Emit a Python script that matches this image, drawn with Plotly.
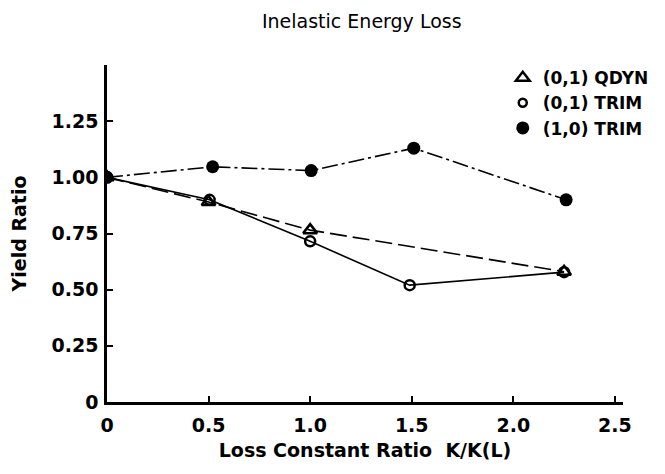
import plotly.graph_objects as go

# (0,1) QDYN
x_qdyn = [0, 0.50, 1.0, 2.25]
y_qdyn = [1.0, 0.89, 0.765, 0.58]
# (0,1) TRIM
x_trim01 = [0, 0.505, 1.0, 1.49, 2.25]
y_trim01 = [1.0, 0.90, 0.715, 0.52, 0.578]
# (1,0) TRIM
x_trim10 = [0, 0.52, 1.005, 1.51, 2.26]
y_trim10 = [1.0, 1.047, 1.03, 1.13, 0.90]

y_ticks = [0, 0.25, 0.5, 0.75, 1.0, 1.25, 1.5]
y_tick_labels = ["0", "0.25", "0.50", "0.75", "1.00", "1.25", ""]
x_ticks = [0, 0.5, 1.0, 1.5, 2.0, 2.5]
x_tick_labels = ["0", "0.5", "1.0", "1.5", "2.0", "2.5"]

FONT = "DejaVu Sans"

tri = dict(symbol="triangle-up-open", size=12, color="black", line=dict(width=2.5, color="black"))
ring = dict(symbol="circle-open", size=10, color="black", line=dict(width=2.5, color="black"))
dot = dict(symbol="circle", size=13, color="black")

fig = go.Figure()
fig.add_trace(go.Scatter(x=x_qdyn, y=y_qdyn, mode="lines+markers", showlegend=False,
                         line=dict(color="black", width=1.6, dash="17px,6px"), marker=tri))
fig.add_trace(go.Scatter(x=x_trim01, y=y_trim01, mode="lines+markers", showlegend=False,
                         line=dict(color="black", width=1.6), marker=ring))
fig.add_trace(go.Scatter(x=x_trim10, y=y_trim10, mode="lines+markers", showlegend=False,
                         line=dict(color="black", width=1.6, dash="16px,4px,3px,4px"), marker=dot))
# legend entries (symbols only, as in the original key)
fig.add_trace(go.Scatter(x=[None], y=[None], mode="markers", name="<b>(0,1) QDYN</b>", marker=tri))
fig.add_trace(go.Scatter(x=[None], y=[None], mode="markers", name="<b>(0,1) TRIM</b>",
                         marker=dict(ring, size=8)))
fig.add_trace(go.Scatter(x=[None], y=[None], mode="markers", name="<b>(1,0) TRIM</b>", marker=dot))

fig.update_layout(
    width=665, height=474,
    margin=dict(l=99, r=50, t=57, b=80, autoexpand=False),
    paper_bgcolor="white", plot_bgcolor="white",
    font=dict(family=FONT, size=19, color="black"),
    title=dict(text="Inelastic Energy Loss", xref="container", x=0.532, xanchor="center",
               yref="container", y=0.972, yanchor="middle",
               font=dict(family=FONT, size=19, color="black")),
    legend=dict(xref="container", yref="container", x=0.744, y=0.89, xanchor="left", yanchor="top",
                bgcolor="rgba(0,0,0,0)", font=dict(family=FONT, size=17, color="black"),
                tracegroupgap=0, itemwidth=30),
    showlegend=True,
)
fig.update_xaxes(range=[0, 2.54], tickvals=x_ticks, ticktext=[f"<b>{t}</b>" for t in x_tick_labels],
                 showgrid=False, zeroline=False, showline=True, linecolor="black", linewidth=2.5,
                 ticks="inside", ticklen=6, tickwidth=2, tickcolor="black", tickangle=0,
                 ticklabelstandoff=4, tickfont=dict(size=19),
                 title=dict(text="<b>Loss Constant Ratio  K/K(L)</b>", standoff=10, font=dict(size=19)))
fig.update_yaxes(range=[0, 1.5], tickvals=y_ticks, ticktext=[f"<b>{t}</b>" for t in y_tick_labels],
                 showgrid=False, zeroline=False, showline=True, linecolor="black", linewidth=2.5,
                 ticks="inside", ticklen=6, tickwidth=2, tickcolor="black", ticklabelstandoff=2,
                 tickfont=dict(size=19),
                 title=dict(text="<b>Yield Ratio</b>", standoff=18, font=dict(size=19)))

fig.write_html("out.html")
